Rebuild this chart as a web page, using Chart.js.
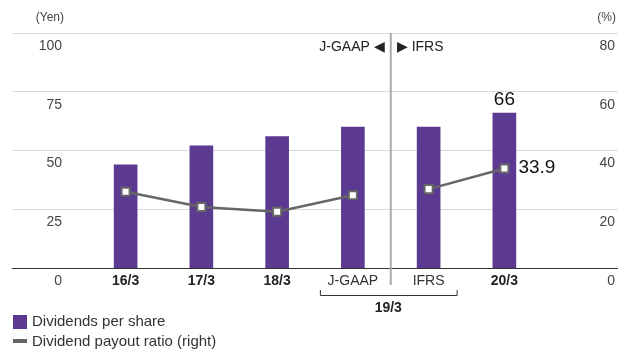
<!doctype html>
<html lang="en">
  <head>
    <meta charset="utf-8">
    <title>Dividends</title>
    <style>
      * { margin: 0; padding: 0; }
      body { background: #fff; }
      .chartBox { width: 630px; height: 349px; }
    </style>
  </head>
  <body>
    <div class="chartBox">
      <canvas id="myChart" width="630" height="349"></canvas>
    </div>
    <script src="https://cdn.jsdelivr.net/npm/chart.js/dist/chart.umd.min.js"></script>
    <script>
    // setup
    // empty slots at both ends keep the bars away from the axis labels
    const periods = ['', '16/3', '17/3', '18/3', 'J-GAAP', 'IFRS', '20/3', ''];
    const fiscalYears = ['16/3', '17/3', '18/3', '20/3'];
    const dividends = [null, 44, 52, 56, 60, 60, 66, null];
    const payoutRatio = [null, 26.0, 20.8, 19.2, 24.8, 26.9, 33.9, null];
    const yenTicks = [0, 25, 50, 75, 100];
    const pctTicks = [0, 20, 40, 60, 80];
    const gaapIndex = 4;   // last J-GAAP period, IFRS from the next one
    const splitYear = '19/3';

    const PURPLE = '#5c3a92';
    const LINE = '#666666';
    const FONT = "'Liberation Sans', Arial, sans-serif";

    const data = {
      labels: periods,
      datasets: [{
        type: 'line',
        label: 'Dividend payout ratio (right)',
        data: payoutRatio,
        yAxisID: 'y1',
        order: 1,
        borderColor: LINE,
        borderWidth: 2.5,
        pointStyle: 'rect',
        pointRadius: 5.7,
        pointBorderWidth: 2,
        pointBackgroundColor: '#fff',
        pointBorderColor: LINE,
        segment: {
          // no line across the change of accounting standard
          borderColor: ctx => ctx.p0DataIndex === gaapIndex ? 'transparent' : undefined
        }
      }, {
        type: 'bar',
        label: 'Dividends per share',
        data: dividends,
        yAxisID: 'y',
        order: 2,
        backgroundColor: PURPLE,
        barThickness: 23
      }]
    };

    // tick labels sit inside the plot, just under their grid line
    const axisLabels = {
      id: 'axisLabels',
      afterDraw(chart) {
        const c = chart.ctx;
        const y = chart.scales.y, y1 = chart.scales.y1;
        c.save();
        c.fillStyle = '#444';
        c.font = '14px ' + FONT;
        c.textBaseline = 'middle';
        c.textAlign = 'right';
        yenTicks.forEach(v => c.fillText(String(v), 62, y.getPixelForValue(v) + 13));
        pctTicks.forEach(v => c.fillText(String(v), 615, y1.getPixelForValue(v) + 13));
        c.font = '12px ' + FONT;
        c.fillText('(Yen)', 64, 18);
        c.fillText('(%)', 616, 18);
        c.restore();
      }
    };

    // J-GAAP / IFRS divider, bracket under the 19/3 pair
    const standards = {
      id: 'standards',
      beforeDatasetsDraw(chart) {
        const c = chart.ctx;
        const x = chart.scales.x;
        const sx = (x.getPixelForValue(gaapIndex) + x.getPixelForValue(gaapIndex + 1)) / 2;
        c.save();
        c.strokeStyle = '#aaa';
        c.lineWidth = 2;
        c.beginPath();
        c.moveTo(sx, chart.chartArea.top);
        c.lineTo(sx, 285);
        c.stroke();
        c.restore();
      },
      afterDraw(chart) {
        const c = chart.ctx;
        const x = chart.scales.x;
        const x0 = x.getPixelForValue(gaapIndex), x1 = x.getPixelForValue(gaapIndex + 1);
        const sx = (x0 + x1) / 2;
        c.save();
        c.fillStyle = '#222';
        c.font = '14px ' + FONT;
        c.textBaseline = 'middle';
        c.textAlign = 'right';
        c.fillText('J-GAAP \u25C0', sx - 6, 47);
        c.textAlign = 'left';
        c.fillText('\u25B6 IFRS', sx + 6, 47);

        const bl = x0 - 33, br = x1 + 28;
        c.strokeStyle = '#333';
        c.lineWidth = 1;
        c.beginPath();
        c.moveTo(bl + 0.5, 290);
        c.lineTo(bl + 0.5, 295.5);
        c.lineTo(br + 0.5, 295.5);
        c.lineTo(br + 0.5, 290);
        c.stroke();
        c.textAlign = 'center';
        c.font = 'bold 14px ' + FONT;
        c.fillText(splitYear, (bl + br) / 2, 308);
        c.restore();
      }
    };

    // values written next to the latest bar and point
    const lastValues = {
      id: 'lastValues',
      afterDatasetsDraw(chart) {
        const c = chart.ctx;
        const last = periods.length - 2;
        const bar = chart.getDatasetMeta(1).data[last];
        const pt = chart.getDatasetMeta(0).data[last];
        c.save();
        c.fillStyle = '#111';
        c.font = '19px ' + FONT;
        c.textBaseline = 'middle';
        c.textAlign = 'center';
        c.fillText(String(dividends[last]), bar.x, bar.y - 13);
        c.textAlign = 'left';
        c.fillText(payoutRatio[last].toFixed(1), pt.x + 14, pt.y - 1);
        c.restore();
      }
    };

    const legendBox = {
      id: 'legendBox',
      afterDraw(chart) {
        const c = chart.ctx;
        const bar = chart.data.datasets[1], line = chart.data.datasets[0];
        c.save();
        c.font = '15px ' + FONT;
        c.fillStyle = '#333';
        c.textBaseline = 'middle';
        c.textAlign = 'left';
        c.fillStyle = bar.backgroundColor;
        c.fillRect(13, 315, 14, 14);
        c.fillStyle = '#333';
        c.fillText(bar.label, 32, 322);
        c.fillStyle = line.borderColor;
        c.fillRect(13, 339, 14, 4);
        c.fillStyle = '#333';
        c.fillText(line.label, 32, 342);
        c.restore();
      }
    };

    // config
    const config = {
      data,
      options: {
        responsive: false,
        animation: false,
        devicePixelRatio: 1,
        layout: {
          autoPadding: false,
          padding: { left: 12, right: 12, top: 33, bottom: 54 }
        },
        plugins: {
          legend: { display: false },
          tooltip: { enabled: false }
        },
        scales: {
          x: {
            grid: { display: false, drawTicks: false },
            border: { display: false },
            ticks: {
              padding: 5,
              autoSkip: false,
              maxRotation: 0,
              color: ctx => fiscalYears.includes(periods[ctx.index]) ? '#222' : '#333',
              font: ctx => ({
                family: FONT,
                size: 14,
                weight: fiscalYears.includes(periods[ctx.index]) ? 'bold' : 'normal'
              })
            }
          },
          y: {
            position: 'left',
            min: 0,
            max: 100,
            ticks: { display: false, stepSize: 25 },
            border: { display: false },
            grid: {
              drawTicks: false,
              color: ctx => ctx.tick.value === 0 ? '#333' : '#d9d9d9',
              lineWidth: 1
            }
          },
          y1: {
            position: 'right',
            display: false,
            min: 0,
            max: 80,
            ticks: { stepSize: 20 }
          }
        }
      },
      plugins: [axisLabels, standards, lastValues, legendBox]
    };

    // render init block
    const ctx = document.getElementById('myChart');
    const myChart = new Chart(ctx, config);
    </script>
  </body>
</html>
